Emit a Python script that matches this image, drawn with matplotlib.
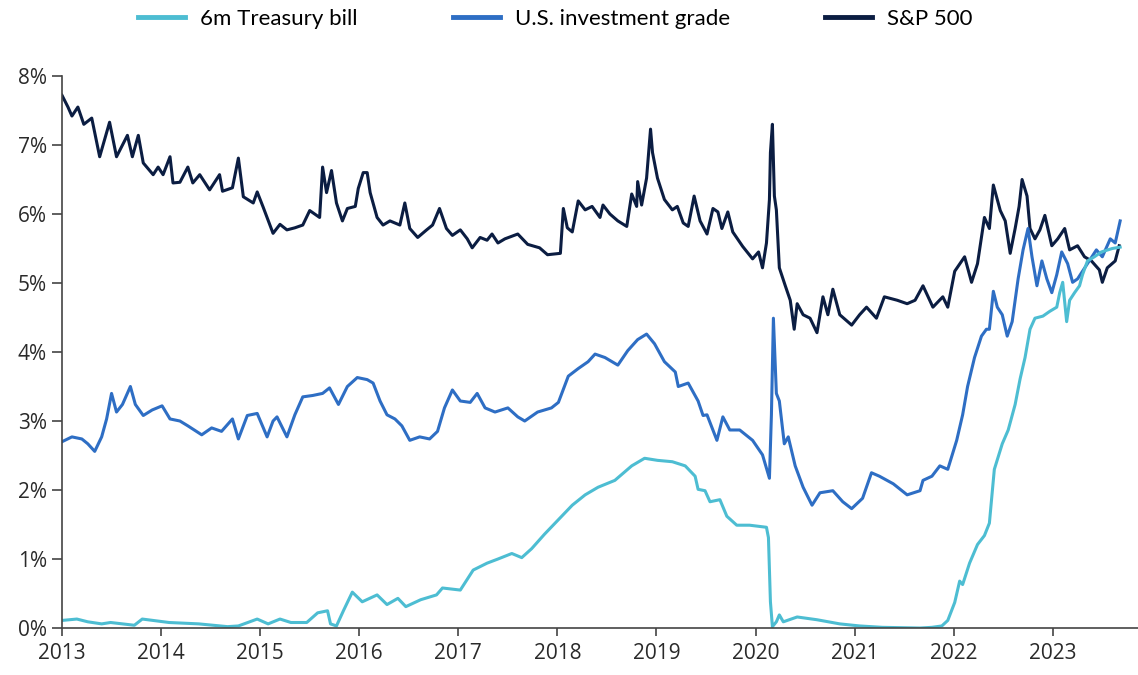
import matplotlib
matplotlib.use("Agg")
from matplotlib import pyplot as plt
from matplotlib import font_manager

# decimal years / yields in %
sp_t = [2013.00, 2013.06, 2013.10, 2013.16, 2013.22, 2013.30, 2013.38, 2013.48, 2013.55, 2013.66,
        2013.71, 2013.77, 2013.82, 2013.92, 2013.97, 2014.02, 2014.09, 2014.12, 2014.19, 2014.27,
        2014.32, 2014.39, 2014.49, 2014.59, 2014.62, 2014.72, 2014.78, 2014.83, 2014.93, 2014.97,
        2015.03, 2015.13, 2015.20, 2015.27, 2015.35, 2015.43, 2015.50, 2015.60, 2015.63, 2015.67,
        2015.72, 2015.77, 2015.83, 2015.88, 2015.96, 2015.99, 2016.04, 2016.08, 2016.11, 2016.18,
        2016.24, 2016.31, 2016.41, 2016.46, 2016.51, 2016.59, 2016.68, 2016.74, 2016.81, 2016.88,
        2016.94, 2017.02, 2017.09, 2017.14, 2017.22, 2017.29, 2017.34, 2017.40, 2017.47, 2017.60,
        2017.70, 2017.82, 2017.90, 2018.03, 2018.06, 2018.10, 2018.15, 2018.21, 2018.28, 2018.35,
        2018.43, 2018.46, 2018.53, 2018.61, 2018.70, 2018.75, 2018.80, 2018.81, 2018.85, 2018.90,
        2018.94, 2018.96, 2019.01, 2019.08, 2019.16, 2019.21, 2019.27, 2019.32, 2019.38, 2019.44,
        2019.51, 2019.57, 2019.62, 2019.66, 2019.72, 2019.77, 2019.87, 2019.97, 2020.03, 2020.07,
        2020.11, 2020.14, 2020.15, 2020.17, 2020.19, 2020.21, 2020.24, 2020.30, 2020.35, 2020.39,
        2020.42, 2020.48, 2020.55, 2020.62, 2020.68, 2020.73, 2020.78, 2020.85, 2020.97, 2021.05,
        2021.12, 2021.22, 2021.30, 2021.43, 2021.53, 2021.61, 2021.69, 2021.79, 2021.89, 2021.94,
        2022.01, 2022.11, 2022.18, 2022.24, 2022.31, 2022.36, 2022.40, 2022.47, 2022.52, 2022.57,
        2022.62, 2022.66, 2022.69, 2022.74, 2022.77, 2022.82, 2022.87, 2022.92, 2022.99, 2023.05,
        2023.12, 2023.17, 2023.25, 2023.32, 2023.39, 2023.47, 2023.50, 2023.55, 2023.63, 2023.67]
sp_v = [7.72, 7.55, 7.42, 7.55, 7.30, 7.39, 6.83, 7.33, 6.83, 7.14,
        6.83, 7.14, 6.74, 6.57, 6.68, 6.57, 6.83, 6.45, 6.46, 6.68,
        6.45, 6.57, 6.35, 6.57, 6.33, 6.38, 6.81, 6.25, 6.16, 6.32,
        6.10, 5.72, 5.85, 5.77, 5.80, 5.84, 6.05, 5.95, 6.68, 6.31,
        6.63, 6.16, 5.90, 6.08, 6.11, 6.37, 6.60, 6.60, 6.31, 5.95,
        5.84, 5.90, 5.84, 6.16, 5.79, 5.66, 5.77, 5.84, 6.08, 5.79,
        5.69, 5.77, 5.64, 5.51, 5.66, 5.62, 5.71, 5.58, 5.64, 5.71,
        5.56, 5.51, 5.41, 5.43, 6.08, 5.80, 5.74, 6.19, 6.06, 6.11,
        5.95, 6.13, 6.00, 5.90, 5.82, 6.29, 6.11, 6.47, 6.13, 6.52,
        7.23, 6.89, 6.52, 6.21, 6.06, 6.11, 5.87, 5.82, 6.26, 5.90,
        5.71, 6.08, 6.03, 5.79, 6.03, 5.74, 5.53, 5.35, 5.45, 5.22,
        5.58, 6.21, 6.89, 7.30, 6.26, 6.06, 5.22, 4.96, 4.75, 4.33,
        4.70, 4.54, 4.49, 4.28, 4.80, 4.54, 4.91, 4.54, 4.39, 4.54,
        4.65, 4.49, 4.80, 4.75, 4.70, 4.75, 4.96, 4.65, 4.80, 4.65,
        5.17, 5.38, 5.01, 5.28, 5.95, 5.79, 6.42, 6.05, 5.90, 5.43,
        5.79, 6.11, 6.50, 6.26, 5.79, 5.64, 5.77, 5.98, 5.54, 5.64,
        5.79, 5.48, 5.54, 5.38, 5.32, 5.19, 5.01, 5.22, 5.32, 5.54]

ig_t = [2013.00, 2013.10, 2013.20, 2013.26, 2013.33, 2013.40, 2013.45, 2013.50, 2013.55, 2013.61,
        2013.69, 2013.74, 2013.82, 2013.91, 2014.01, 2014.09, 2014.19, 2014.27, 2014.41, 2014.51,
        2014.61, 2014.72, 2014.78, 2014.87, 2014.97, 2015.07, 2015.13, 2015.17, 2015.27, 2015.35,
        2015.43, 2015.53, 2015.63, 2015.70, 2015.79, 2015.88, 2015.98, 2016.08, 2016.14, 2016.21,
        2016.28, 2016.36, 2016.43, 2016.51, 2016.61, 2016.71, 2016.79, 2016.86, 2016.94, 2017.02,
        2017.12, 2017.19, 2017.27, 2017.37, 2017.50, 2017.60, 2017.67, 2017.80, 2017.94, 2018.01,
        2018.11, 2018.21, 2018.31, 2018.38, 2018.48, 2018.61, 2018.71, 2018.81, 2018.90, 2018.98,
        2019.08, 2019.19, 2019.22, 2019.32, 2019.42, 2019.47, 2019.51, 2019.61, 2019.67, 2019.74,
        2019.84, 2019.97, 2020.07, 2020.14, 2020.16, 2020.18, 2020.21, 2020.24, 2020.29, 2020.33,
        2020.40, 2020.48, 2020.57, 2020.65, 2020.78, 2020.88, 2020.97, 2021.08, 2021.17, 2021.25,
        2021.39, 2021.53, 2021.66, 2021.69, 2021.78, 2021.86, 2021.94, 2022.03, 2022.09, 2022.14,
        2022.21, 2022.28, 2022.33, 2022.36, 2022.40, 2022.44, 2022.49, 2022.54, 2022.59, 2022.65,
        2022.70, 2022.75, 2022.79, 2022.84, 2022.89, 2022.94, 2022.99, 2023.04, 2023.09, 2023.15,
        2023.20, 2023.25, 2023.30, 2023.35, 2023.44, 2023.50, 2023.58, 2023.63, 2023.68]
ig_v = [2.70, 2.77, 2.74, 2.67, 2.56, 2.77, 3.03, 3.40, 3.13, 3.24,
        3.50, 3.24, 3.08, 3.16, 3.22, 3.03, 3.00, 2.93, 2.80, 2.90,
        2.85, 3.03, 2.74, 3.08, 3.11, 2.77, 3.00, 3.06, 2.77, 3.09,
        3.35, 3.37, 3.40, 3.48, 3.24, 3.50, 3.63, 3.60, 3.55, 3.29,
        3.09, 3.03, 2.93, 2.72, 2.77, 2.74, 2.85, 3.19, 3.45, 3.29,
        3.27, 3.40, 3.19, 3.13, 3.19, 3.06, 3.00, 3.13, 3.19, 3.27,
        3.65, 3.76, 3.86, 3.97, 3.92, 3.81, 4.02, 4.18, 4.26, 4.12,
        3.86, 3.71, 3.50, 3.55, 3.29, 3.08, 3.09, 2.72, 3.06, 2.87,
        2.87, 2.72, 2.51, 2.17, 3.09, 4.49, 3.40, 3.29, 2.67, 2.77,
        2.35, 2.04, 1.78, 1.96, 1.99, 1.83, 1.73, 1.88, 2.25, 2.20,
        2.09, 1.93, 1.99, 2.14, 2.20, 2.35, 2.30, 2.72, 3.09, 3.50,
        3.92, 4.23, 4.33, 4.33, 4.88, 4.65, 4.54, 4.23, 4.44, 5.06,
        5.48, 5.79, 5.38, 4.96, 5.32, 5.06, 4.86, 5.12, 5.45, 5.28,
        5.01, 5.06, 5.17, 5.28, 5.48, 5.38, 5.64, 5.58, 5.90]

tb_t = [2013.00, 2013.15, 2013.26, 2013.40, 2013.49, 2013.73, 2013.81, 2014.08, 2014.38, 2014.67,
        2014.78, 2014.97, 2015.08, 2015.20, 2015.31, 2015.47, 2015.58, 2015.68, 2015.71, 2015.77,
        2015.84, 2015.93, 2016.03, 2016.18, 2016.28, 2016.39, 2016.47, 2016.62, 2016.78, 2016.84,
        2017.02, 2017.15, 2017.29, 2017.40, 2017.54, 2017.64, 2017.74, 2017.87, 2018.01, 2018.15,
        2018.28, 2018.41, 2018.58, 2018.75, 2018.88, 2019.01, 2019.16, 2019.29, 2019.39, 2019.42,
        2019.49, 2019.54, 2019.64, 2019.71, 2019.81, 2019.94, 2020.11, 2020.13, 2020.15, 2020.17,
        2020.21, 2020.24, 2020.28, 2020.42, 2020.62, 2020.85, 2021.05, 2021.28, 2021.66, 2021.78,
        2021.88, 2021.94, 2022.01, 2022.06, 2022.09, 2022.16, 2022.24, 2022.31, 2022.36, 2022.39,
        2022.41, 2022.49, 2022.55, 2022.62, 2022.67, 2022.72, 2022.77, 2022.82, 2022.90, 2022.97,
        2023.04, 2023.07, 2023.10, 2023.14, 2023.17, 2023.22, 2023.27, 2023.30, 2023.35, 2023.42,
        2023.49, 2023.60, 2023.68]
tb_v = [0.11, 0.13, 0.09, 0.06, 0.08, 0.04, 0.13, 0.08, 0.06, 0.02,
        0.03, 0.13, 0.06, 0.13, 0.08, 0.08, 0.22, 0.25, 0.06, 0.03,
        0.25, 0.52, 0.38, 0.48, 0.34, 0.43, 0.31, 0.41, 0.48, 0.58,
        0.55, 0.84, 0.94, 1.00, 1.08, 1.02, 1.15, 1.36, 1.57, 1.78,
        1.93, 2.04, 2.14, 2.35, 2.46, 2.43, 2.41, 2.35, 2.20, 2.01,
        1.99, 1.83, 1.86, 1.62, 1.49, 1.49, 1.46, 1.31, 0.38, 0.02,
        0.09, 0.19, 0.09, 0.16, 0.12, 0.06, 0.03, 0.01, 0.00, 0.01,
        0.03, 0.11, 0.37, 0.68, 0.63, 0.94, 1.21, 1.34, 1.52, 1.99,
        2.30, 2.67, 2.87, 3.24, 3.61, 3.92, 4.33, 4.49, 4.52, 4.59,
        4.65, 4.86, 5.01, 4.44, 4.75, 4.86, 4.96, 5.12, 5.32, 5.38,
        5.45, 5.50, 5.52]

years = list(range(2013, 2024))
pct_ticks = list(range(0, 9))

installed = {f.name for f in font_manager.fontManager.ttflist}
tick_font = "Open Sans" if "Open Sans" in installed else "DejaVu Sans"
legend_font = "Lato" if "Lato" in installed else tick_font

c_tb = "#4dbdd2"
c_ig = "#2e6ec4"
c_sp = "#0b1d42"

fig = plt.figure(figsize=(11.38, 6.75), dpi=100)
ax = fig.add_axes([0.0545, 0.0696, 0.9455, 0.8178])

l_sp, = ax.plot(sp_t, sp_v, color=c_sp, lw=2.2, solid_joinstyle="round", label="S&P 500")
l_ig, = ax.plot(ig_t, ig_v, color=c_ig, lw=2.2, solid_joinstyle="round", label="U.S. investment grade")
l_tb, = ax.plot(tb_t, tb_v, color=c_tb, lw=2.2, solid_joinstyle="round", label="6m Treasury bill")

ax.set_xlim(2013, 2023.86)
ax.set_ylim(0, 8)
ax.set_xticks(years)
ax.set_xticklabels([str(y) for y in years])
ax.set_yticks(pct_ticks)
ax.set_yticklabels([f"{p}%" for p in pct_ticks])

for s in ["top", "right"]:
    ax.spines[s].set_visible(False)
for s in ["left", "bottom"]:
    ax.spines[s].set_color("#444444")
    ax.spines[s].set_linewidth(1.2)
ax.tick_params(axis="both", direction="out", color="#444444", width=1.2,
               labelsize=15, labelcolor="#2a2a2a")
ax.tick_params(axis="x", length=6, pad=5)
ax.tick_params(axis="y", length=7, pad=4)
for lab in ax.get_xticklabels() + ax.get_yticklabels():
    lab.set_fontfamily(tick_font)

fig.legend(handles=[l_tb, l_ig, l_sp], loc="center", bbox_to_anchor=(0.488, 0.972),
           ncol=3, frameon=False, handlelength=2.1, handletextpad=0.68, columnspacing=4.3,
           prop={"family": legend_font, "size": 16})
for h in fig.legends[0].get_lines():
    h.set_linewidth(3.5)

fig.savefig("out.png", dpi=100)
